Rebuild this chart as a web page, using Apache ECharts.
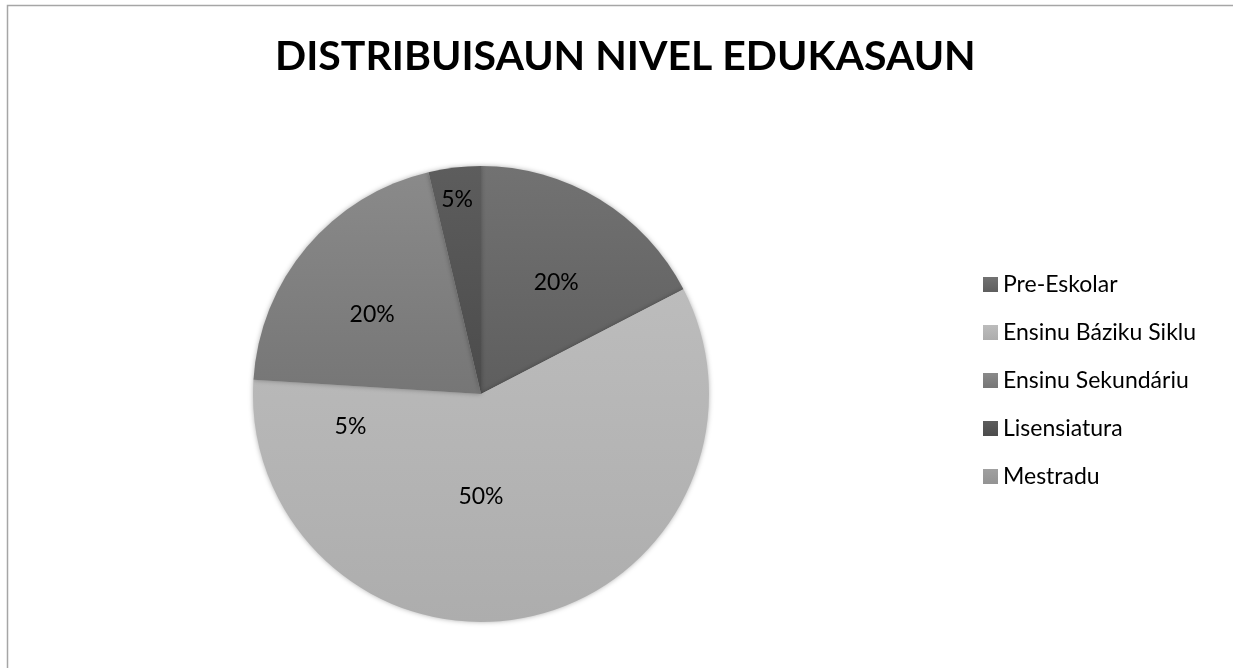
<!DOCTYPE html>
<html>
<head>
<meta charset="utf-8">
<title>Distribuisaun Nivel Edukasaun</title>
<script src="https://cdn.jsdelivr.net/npm/echarts@6/dist/echarts.min.js"></script>
<style>
    html, body { margin: 0; padding: 0; background: #fff; }
    #main { width: 1233px; height: 668px; }
</style>
</head>
<body>
<div id="main"></div>
<script>
    // dados
    var categories = ['Pre-Eskolar', 'Ensinu Báziku Siklu', 'Ensinu Sekundáriu', 'Lisensiatura', 'Mestradu'];
    var values = [17.4, 58.6, 20.3, 3.7, 0];          // fatia sira hanesan iha imajen
    var labelTexts = ['20%', '50%', '20%', '5%', '5%'];  // label hanesan iha imajen

    // estilo
    var topColors = ['#727272', '#bcbcbc', '#8a8a8a', '#5d5d5d', '#a0a0a0'];
    var bottomColors = ['#5e5e5e', '#adadad', '#767676', '#4b4b4b', '#939393'];
    // fatin label: [angulu (grau, husi leten, tuir relójiu), raiu relativu]
    var labelSpot = [[34, 0.59], [180, 0.45], [306, 0.59], [353, 0.86], [256, 0.59]];

    var cx = 481, cy = 394, R = 228;

    var myChart = echarts.init(document.getElementById('main'));

    var pieData = categories.map(function (name, i) {
        return {
            name: name,
            value: values[i],
            itemStyle: {
                color: new echarts.graphic.LinearGradient(0, 0, 0, 1, [
                    { offset: 0, color: topColors[i] },
                    { offset: 1, color: bottomColors[i] }
                ])
            }
        };
    });

    var option = {
        backgroundColor: '#ffffff',
        animation: false,
        title: {
            text: 'DISTRIBUISAUN NIVEL EDUKASAUN',
            left: 270,
            top: 31,
            textStyle: {
                fontFamily: 'Lato',
                fontWeight: 'bold',
                fontSize: 41,
                color: '#000'
            }
        },
        legend: {
            orient: 'vertical',
            left: 978,
            top: 268,
            icon: 'rect',
            itemWidth: 15,
            itemHeight: 15,
            itemGap: 25,
            data: categories,
            textStyle: {
                fontFamily: 'Lato',
                fontSize: 23,
                lineHeight: 23,
                color: '#000'
            }
        },
        graphic: [{
            type: 'rect',
            silent: true,
            shape: { x: 7.5, y: 5.5, width: 1300, height: 700 },
            style: { fill: 'none', stroke: '#a6a6a6', lineWidth: 1.5 }
        }],
        series: [{
            type: 'pie',
            center: [cx, cy],
            radius: R,
            startAngle: 90,
            clockwise: true,
            minShowLabelAngle: 0,
            data: pieData,
            itemStyle: {
                shadowBlur: 5,
                shadowColor: 'rgba(0,0,0,0.3)'
            },
            emphasis: { disabled: true },
            label: {
                show: true,
                position: 'inside',
                fontFamily: 'Lato',
                fontSize: 23,
                color: '#000',
                formatter: function (p) { return labelTexts[p.dataIndex]; }
            },
            labelLine: { show: false },
            labelLayout: function (params) {
                var s = labelSpot[params.dataIndex];
                var a = s[0] * Math.PI / 180;
                return {
                    x: cx + R * s[1] * Math.sin(a),
                    y: cy - R * s[1] * Math.cos(a),
                    align: 'center',
                    verticalAlign: 'middle'
                };
            }
        }]
    };

    myChart.setOption(option);
</script>
</body>
</html>
